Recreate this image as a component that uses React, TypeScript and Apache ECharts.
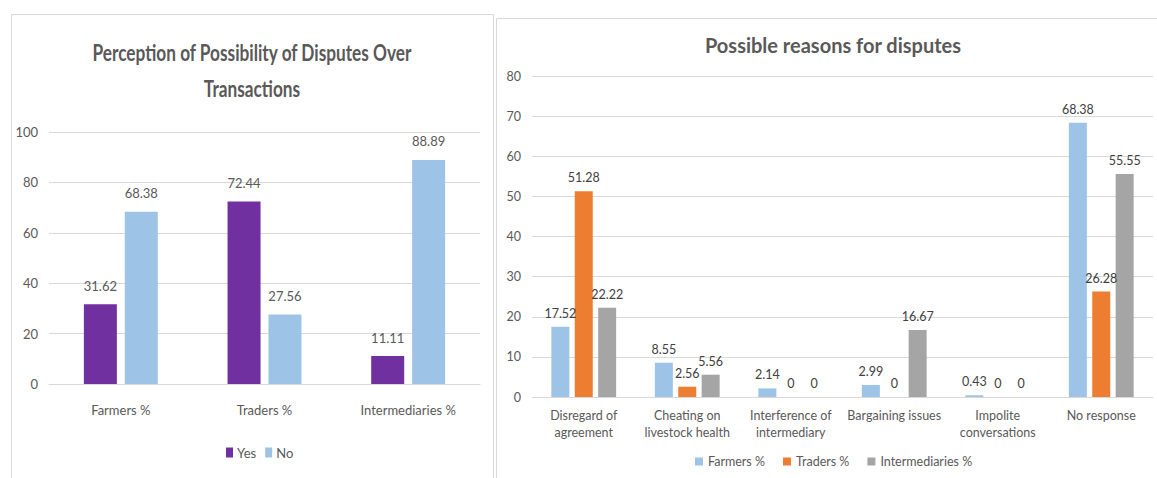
import React, { useEffect, useRef } from "react";
import * as echarts from "echarts";

// Left chart data
const leftTitle = "Perception of Possibility of Disputes Over\nTransactions";
const leftCategories = ["Farmers %", "Traders %", "Intermediaries %"];
const yesValues = [31.62, 72.44, 11.11];
const noValues = [68.38, 27.56, 88.89];

// Right chart data
const rightTitle = "Possible reasons for disputes";
const rightCategories = [
  "Disregard of\nagreement",
  "Cheating on\nlivestock health",
  "Interference of\nintermediary",
  "Bargaining issues",
  "Impolite\nconversations",
  "No response",
];
const farmersValues = [17.52, 8.55, 2.14, 2.99, 0.43, 68.38];
const tradersValues = [51.28, 2.56, 0, 0, 0, 26.28];
const intermediariesValues = [22.22, 5.56, 0, 16.67, 0, 55.55];

const FONT = "Lato, 'Open Sans', sans-serif";
const GRAY = "#595959";
const GRID_LINE = "#d9d9d9";

export default function App() {
  const ref = useRef<HTMLDivElement>(null);
  useEffect(() => {
    if (!ref.current) return;
    const chart = echarts.init(ref.current, undefined, { renderer: "svg" });
    const option: any = {
      animation: false,
      backgroundColor: "#ffffff",
      title: [
        {
          text: rightTitle,
          left: 833,
          top: 34,
          textAlign: "center",
          padding: 0,
          textStyle: {
            fontFamily: FONT,
            fontSize: 20,
            fontWeight: "bold",
            color: GRAY,
            lineHeight: 22,
          },
        },
      ],
      graphic: [
        {
          type: "rect",
          shape: { x: 11.5, y: 14.5, width: 482, height: 500 },
          style: { fill: "none", stroke: "#d9d9d9", lineWidth: 1 },
          silent: true,
        },
        {
          type: "rect",
          shape: { x: 496.5, y: 18.5, width: 700, height: 500 },
          style: { fill: "none", stroke: "#d9d9d9", lineWidth: 1 },
          silent: true,
        },
        {
          type: "text",
          x: 252,
          y: 70,
          scaleX: 0.75,
          silent: true,
          style: {
            text: leftTitle,
            fontFamily: FONT,
            fontSize: 23,
            fontWeight: "bold",
            fill: GRAY,
            lineHeight: 36,
            align: "center",
            verticalAlign: "middle",
          },
        },
      ],
      legend: [
        {
          data: ["Yes", "No"],
          left: 226,
          top: 446,
          itemWidth: 7,
          itemHeight: 10,
          itemGap: 9,
          icon: "rect",
          padding: 0,
          textStyle: { fontFamily: FONT, fontSize: 13, color: GRAY, padding: [0, 0, 0, -1] },
        },
        {
          data: ["Farmers %", "Traders %", "Intermediaries %"],
          left: 695,
          top: 455,
          itemWidth: 8,
          itemHeight: 8,
          itemGap: 18,
          icon: "rect",
          padding: 0,
          textStyle: { fontFamily: FONT, fontSize: 12.5, color: GRAY },
        },
      ],
      grid: [
        { left: 49, top: 132, width: 431, height: 252, containLabel: false },
        { left: 532, top: 76, width: 621, height: 321, containLabel: false },
      ],
      xAxis: [
        {
          type: "category",
          gridIndex: 0,
          data: leftCategories,
          axisTick: { show: false },
          axisLine: { lineStyle: { color: GRID_LINE } },
          axisLabel: { fontFamily: FONT, fontSize: 13, color: GRAY, margin: 19 },
        },
        {
          type: "category",
          gridIndex: 1,
          data: rightCategories,
          axisTick: { show: false },
          axisLine: { lineStyle: { color: GRID_LINE } },
          axisLabel: {
            fontFamily: FONT,
            fontSize: 12.5,
            color: GRAY,
            margin: 10,
            lineHeight: 17,
            interval: 0,
          },
        },
      ],
      yAxis: [
        {
          type: "value",
          gridIndex: 0,
          min: 0,
          max: 100,
          interval: 20,
          axisLine: { show: false },
          axisTick: { show: false },
          splitLine: { lineStyle: { color: GRID_LINE } },
          axisLabel: { fontFamily: FONT, fontSize: 13, color: GRAY, margin: 11 },
        },
        {
          type: "value",
          gridIndex: 1,
          min: 0,
          max: 80,
          interval: 10,
          axisLine: { show: false },
          axisTick: { show: false },
          splitLine: { lineStyle: { color: GRID_LINE } },
          axisLabel: { fontFamily: FONT, fontSize: 12.5, color: GRAY, margin: 11 },
        },
      ],
      series: [
        {
          name: "Yes",
          type: "bar",
          xAxisIndex: 0,
          yAxisIndex: 0,
          data: yesValues,
          barWidth: 33,
          barGap: "24%",
          itemStyle: { color: "#7030A0" },
          label: { show: true, position: "top", distance: 12, fontFamily: FONT, fontSize: 13, color: GRAY },
        },
        {
          name: "No",
          type: "bar",
          xAxisIndex: 0,
          yAxisIndex: 0,
          data: noValues,
          barWidth: 33,
          barGap: "24%",
          itemStyle: { color: "#9DC3E6" },
          label: { show: true, position: "top", distance: 12, fontFamily: FONT, fontSize: 13, color: GRAY },
        },
        {
          name: "Farmers %",
          type: "bar",
          xAxisIndex: 1,
          yAxisIndex: 1,
          data: farmersValues,
          barWidth: 18,
          barGap: "30%",
          itemStyle: { color: "#9DC3E6" },
          label: { show: true, position: "top", distance: 7, fontFamily: FONT, fontSize: 12.5, color: "#404040" },
        },
        {
          name: "Traders %",
          type: "bar",
          xAxisIndex: 1,
          yAxisIndex: 1,
          data: tradersValues,
          barWidth: 18,
          barGap: "30%",
          itemStyle: { color: "#ED7D31" },
          label: { show: true, position: "top", distance: 7, fontFamily: FONT, fontSize: 12.5, color: "#404040" },
        },
        {
          name: "Intermediaries %",
          type: "bar",
          xAxisIndex: 1,
          yAxisIndex: 1,
          data: intermediariesValues,
          barWidth: 18,
          barGap: "30%",
          itemStyle: { color: "#A5A5A5" },
          label: { show: true, position: "top", distance: 7, fontFamily: FONT, fontSize: 12.5, color: "#404040" },
        },
      ],
    };
    chart.setOption(option);
    return () => chart.dispose();
  }, []);
  return (
    <div
      ref={ref}
      style={{ position: "absolute", left: 0, top: 0, width: 1157, height: 478, background: "#fff" }}
    />
  );
}
